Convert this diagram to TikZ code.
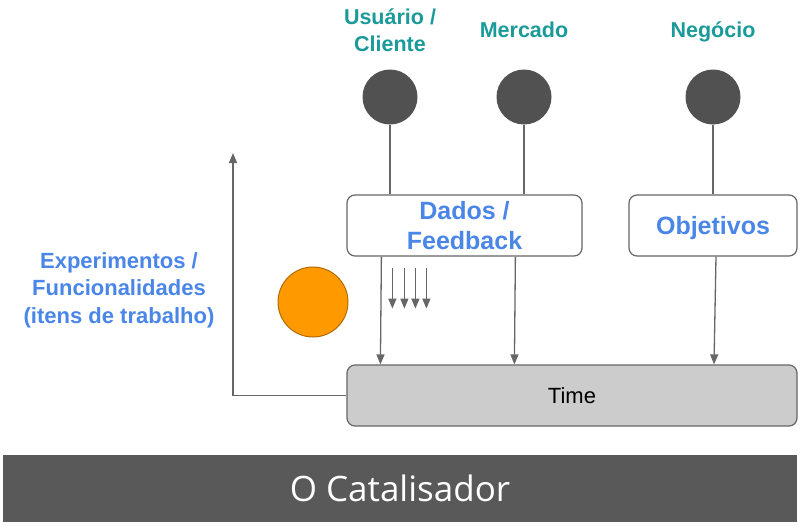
\documentclass[tikz,border=0pt]{standalone}
\usepackage{fontspec}
\setmainfont{Liberation Sans}
\newfontfamily\catfont{Open Sans}
\usepackage{tikz}
\usetikzlibrary{arrows.meta, positioning, calc}
\usepackage{xcolor}

\definecolor{verdeazul}{HTML}{1B9A9A}
\definecolor{azul}{HTML}{4A86E8}
\definecolor{cinzaescuro}{HTML}{515151}
\definecolor{cinzalinha}{HTML}{666666}
\definecolor{cinzatime}{HTML}{CCCCCC}
\definecolor{laranja}{HTML}{FF9900}
\definecolor{faixa}{HTML}{595959}

\tikzset{
    fonte/.style={text=verdeazul, font=\fontsize{21.5}{27}\selectfont\bfseries, align=center},
    bola/.style={circle, fill=cinzaescuro, minimum size=55pt, inner sep=0pt},
    caixa/.style={draw=cinzalinha, line width=1.2pt, rounded corners=8pt, fill=white,
        text=azul, font=\fontsize{25}{30}\selectfont\bfseries, align=center},
    seta/.style={-{Triangle[length=10pt,width=8pt]}, line width=1.3pt, cinzalinha},
    linha/.style={line width=1.3pt, cinzalinha}
}

\begin{document}
\begin{tikzpicture}[x=1pt, y=-1pt]
        \useasboundingbox (0,0) rectangle (800,528);

        % Fontes de entrada
        \node[fonte] (usuario) at (390,30) {Usuário /\\Cliente};
        \node[fonte, anchor=base] (mercado) at (524,37) {Mercado};
        \node[fonte, anchor=base] (negocio) at (713,37) {Negócio};

        \node[bola] (bolausuario) at (390,97) {};
        \node[bola] (bolamercado) at (524,97) {};
        \node[bola] (bolanegocio) at (713,97) {};

        % Caixas
        \node[caixa, minimum width=235pt, minimum height=61pt] (dados) at (464.5,225.5) {Dados /\\Feedback};
        \node[caixa, minimum width=168pt, minimum height=61pt, text depth=0pt] (objetivos) at (713,225.5) {Objetivos};
        \node[draw=cinzalinha, line width=1.2pt, rounded corners=8pt, fill=cinzatime,
            minimum width=450pt, minimum height=61pt, font=\fontsize{22}{26}\selectfont]
            (time) at (572,395.5) {Time};

        % Ligacoes
        \draw[linha] (bolausuario.south) -- (bolausuario.south |- dados.north);
        \draw[linha] (bolamercado.south) -- (bolamercado.south |- dados.north);
        \draw[linha] (bolanegocio.south) -- (bolanegocio.south |- objetivos.north);

        \draw[seta] ([xshift=35pt]dados.south west) -- ([xshift=34pt]time.north west);
        \draw[seta] ([xshift=169pt]dados.south west) -- ([xshift=168pt]time.north west);
        \draw[seta] ([xshift=3pt]objetivos.south) -- ([xshift=1pt]objetivos.south |- time.north);

        \foreach \dx in {46,58,69,80}
            \draw[seta] ([shift={(\dx,11)}]dados.south west) -- ++(0,41);

        % Item de trabalho
        \node[circle, fill=laranja, draw=laranja!70!black, line width=1pt, minimum size=70pt, inner sep=0pt]
            (item) at (313,302) {};

        % Saida para experimentos
        \coordinate (topo) at (233,153);
        \draw[seta] (time.west) -| (topo);
        \node[text=azul, font=\fontsize{22}{27.5}\selectfont\bfseries, align=center]
            (experimentos) at (119,290) {Experimentos /\\Funcionalidades\\(itens de trabalho)};

        % Faixa inferior
        \node[fill=faixa, minimum width=794pt, minimum height=67pt, inner sep=0pt,
            text=white, font=\catfont\fontsize{35}{40}\selectfont] (catalisador) at (400,488.5) {O Catalisador};
    \end{tikzpicture}
\end{document}
